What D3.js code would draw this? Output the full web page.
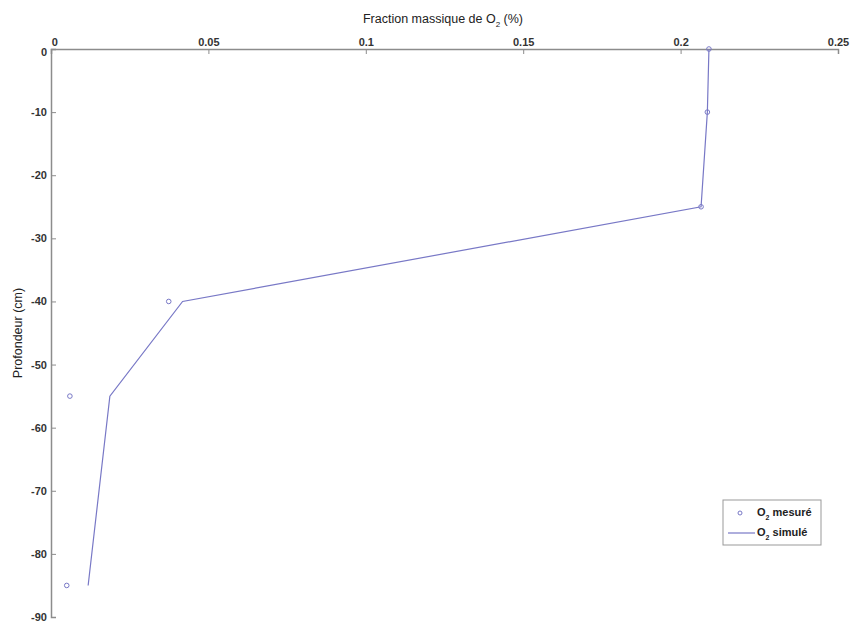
<!DOCTYPE html>
<html>
<head>
<meta charset="utf-8">
<script src="https://cdn.jsdelivr.net/npm/d3@7"></script>
<style>
  html, body { margin: 0; padding: 0; background: #fff; }
  svg { display: block; font-family: Arial, "Liberation Sans", sans-serif; }
</style>
</head>
<body>
<svg id="chart" width="851" height="623"></svg>
<script>
// Data
const depths = [0, -10, -25, -40, -55, -85];
const measuredO2 = [0.209, 0.2085, 0.2065, 0.0374, 0.0060, 0.0050];
const simulatedO2 = [0.209, 0.2085, 0.2065, 0.0418, 0.0187, 0.0118];
const xTicks = [0, 0.05, 0.1, 0.15, 0.2, 0.25];
const yTicks = [0, -10, -20, -30, -40, -50, -60, -70, -80, -90];

const svg = d3.select("#chart");

const x = d3.scaleLinear().domain([0, 0.25]).range([51, 838]);
const y = d3.scaleLinear().domain([0, -90]).range([49, 617]);

const axisColor = "#8c8c8c";
const textColor = "#333";
const seriesColor = "#7878c6";

// Top x axis (ticks inward)
const xAxis = svg.append("g")
  .attr("transform", `translate(0,${y(0)})`)
  .call(d3.axisTop(x).tickValues(xTicks).tickFormat(d => String(d)).tickSize(-5).tickPadding(3));
xAxis.select(".domain").attr("stroke", axisColor).attr("stroke-width", 1.5);
xAxis.selectAll(".tick line").attr("stroke", axisColor);
xAxis.selectAll(".tick text").attr("fill", textColor).attr("font-size", 11).attr("font-weight", "bold")
  .attr("font-family", "Arial, 'Liberation Sans', sans-serif");

// Left y axis (ticks inward)
const yAxis = svg.append("g")
  .attr("transform", `translate(${x(0)},0)`)
  .call(d3.axisLeft(y).tickValues(yTicks).tickFormat(d => String(d)).tickSize(-5).tickPadding(4));
yAxis.select(".domain").attr("stroke", axisColor).attr("stroke-width", 1.5);
yAxis.selectAll(".tick line").attr("stroke", axisColor);
yAxis.selectAll(".tick text").attr("fill", textColor).attr("font-size", 11).attr("font-weight", "bold")
  .attr("font-family", "Arial, 'Liberation Sans', sans-serif");
// offsets for the two "0" labels at the corner, like the original
yAxis.selectAll(".tick").filter(d => d === 0).select("text").attr("dy", "0.55em");
xAxis.selectAll(".tick").filter(d => d === 0).select("text").attr("dx", "0.3em");

// Axis titles
const title = svg.append("text")
  .attr("x", 443).attr("y", 23)
  .attr("text-anchor", "middle")
  .attr("font-size", 12.5).attr("fill", "#222");
title.append("tspan").text("Fraction massique de O");
title.append("tspan").text("2").attr("font-size", 8).attr("dy", 4);
title.append("tspan").text(" (%)").attr("dy", -4);

svg.append("text")
  .attr("transform", `translate(22,333) rotate(-90)`)
  .attr("text-anchor", "middle")
  .attr("font-size", 12.5).attr("fill", "#222")
  .text("Profondeur (cm)");

// Simulated line
const pts = depths.map((d, i) => ({ depth: d, meas: measuredO2[i], sim: simulatedO2[i] }));
svg.append("path")
  .datum(pts)
  .attr("fill", "none")
  .attr("stroke", seriesColor)
  .attr("stroke-width", 1.2)
  .attr("d", d3.line().x(d => x(d.sim)).y(d => y(d.depth)));

// Measured points
svg.selectAll("circle.meas")
  .data(pts)
  .join("circle")
  .attr("class", "meas")
  .attr("cx", d => x(d.meas))
  .attr("cy", d => y(d.depth))
  .attr("r", 2.3)
  .attr("fill", "none")
  .attr("stroke", seriesColor)
  .attr("stroke-width", 1);

// Legend
const lg = svg.append("g");
lg.append("rect")
  .attr("x", 723).attr("y", 500).attr("width", 98).attr("height", 45)
  .attr("fill", "#fff").attr("stroke", "#999").attr("stroke-width", 1);
lg.append("circle")
  .attr("cx", 740).attr("cy", 513).attr("r", 2)
  .attr("fill", "none").attr("stroke", seriesColor).attr("stroke-width", 1);
lg.append("line")
  .attr("x1", 728).attr("x2", 755).attr("y1", 533).attr("y2", 533)
  .attr("stroke", seriesColor).attr("stroke-width", 1.2);
const legendLabels = ["mesuré", "simulé"];
legendLabels.forEach((lab, i) => {
  const t = lg.append("text")
    .attr("x", 757).attr("y", 516 + i * 20)
    .attr("font-size", 11).attr("font-weight", "bold").attr("fill", "#222");
  t.append("tspan").text("O");
  t.append("tspan").text("2").attr("font-size", 7).attr("dy", 4);
  t.append("tspan").text(" " + lab).attr("dy", -4);
});
</script>
</body>
</html>
